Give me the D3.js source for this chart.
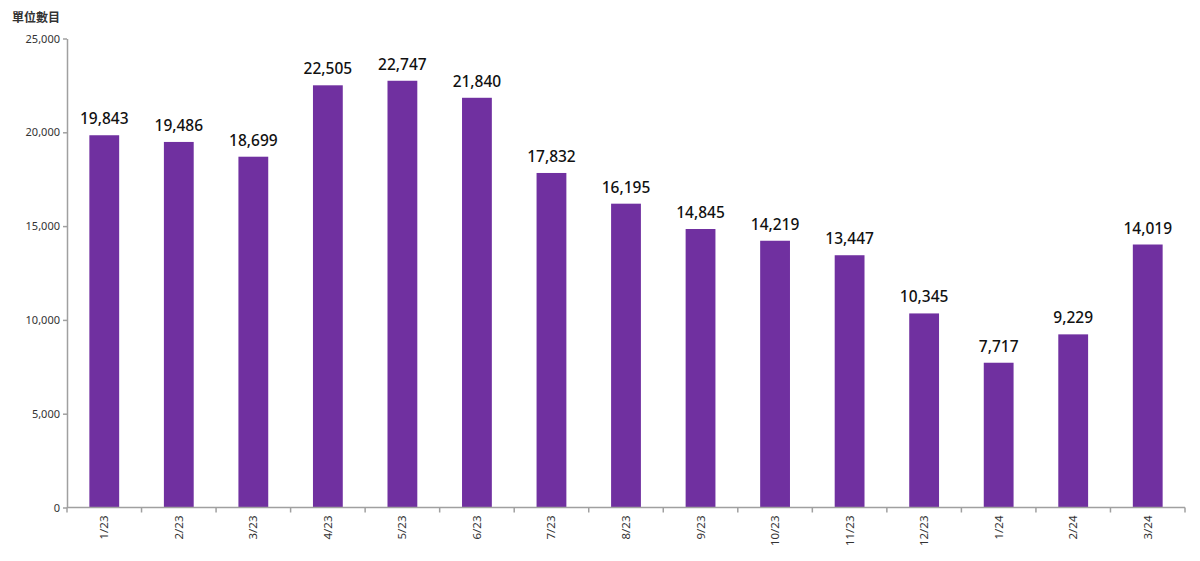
<!DOCTYPE html>
<html><head><meta charset="utf-8">
<script src="https://cdn.jsdelivr.net/npm/d3@7"></script>
<style>body{margin:0;background:#fff}svg{display:block}</style>
</head><body>
<svg id="c" width="1200" height="561"></svg>
<script>
const categories = ["1/23","2/23","3/23","4/23","5/23","6/23","7/23","8/23","9/23","10/23","11/23","12/23","1/24","2/24","3/24"];
const values = [19843,19486,18699,22505,22747,21840,17832,16195,14845,14219,13447,10345,7717,9229,14019];
const yTicks = [0,5000,10000,15000,20000,25000];
const yTitle = "單位數目";

const svg = d3.select("#c");
const m = {left:67, right:15, top:38.5, bottom:53.5};
const W = 1200, H = 561;
const x = d3.scaleBand().domain(categories).range([m.left, W-m.right]).paddingInner(0.6).paddingOuter(0.3);
const y = d3.scaleLinear().domain([0,25000]).range([H-m.bottom, m.top]);
const fmt = d3.format(",");
const axisColor = "#a0a0a0";
const font = "'Noto Sans', 'Open Sans', sans-serif";

// bars
svg.append("g").selectAll("rect").data(values).join("rect")
  .attr("x",(d,i)=>x(categories[i]))
  .attr("y",d=>y(d))
  .attr("width",x.bandwidth())
  .attr("height",d=>y(0)-y(d))
  .attr("fill","#7030a0");

// y axis
const ya = svg.append("g").attr("transform",`translate(${m.left},0)`)
  .call(d3.axisLeft(y).tickValues(yTicks).tickFormat(fmt).tickSize(4).tickSizeOuter(0));
ya.select(".domain").attr("stroke",axisColor).attr("stroke-width",1.5);
ya.selectAll(".tick line").attr("stroke",axisColor).attr("stroke-width",1.5);
ya.selectAll(".tick text").attr("fill","#333").style("font-family",font).style("font-size","11px").attr("x",-7);

// x axis
const xa = svg.append("g").attr("transform",`translate(0,${y(0)})`);
xa.append("line").attr("x1",m.left).attr("x2",W-m.right).attr("y1",0).attr("y2",0)
  .attr("stroke",axisColor).attr("stroke-width",1.5);
const bounds = d3.range(categories.length+1).map(i=>m.left + i*(W-m.right-m.left)/categories.length);
xa.selectAll("line.t").data(bounds).join("line").attr("class","t")
  .attr("x1",d=>d).attr("x2",d=>d).attr("y1",0).attr("y2",5)
  .attr("stroke",axisColor).attr("stroke-width",1.5);
xa.selectAll("text").data(categories).join("text")
  .attr("transform",d=>`translate(${x(d)+x.bandwidth()/2+4},8) rotate(-90)`)
  .attr("text-anchor","end")
  .attr("fill","#333").style("font-family",font).style("font-size","11.5px")
  .text(d=>d);

// value labels
svg.append("g").selectAll("text").data(values).join("text")
  .attr("x",(d,i)=>x(categories[i])+x.bandwidth()/2)
  .attr("y",d=>y(d)-11)
  .attr("text-anchor","middle")
  .attr("fill","#111").style("font-family",font).style("font-size","15.5px").style("font-weight","500")
  .text(d=>fmt(d));

// title
svg.append("text").attr("x",12).attr("y",22).attr("fill","#333")
  .style("font-family","'Noto Sans CJK TC', sans-serif").style("font-size","12px").style("font-weight","bold")
  .text(yTitle);
</script>
</body></html>
